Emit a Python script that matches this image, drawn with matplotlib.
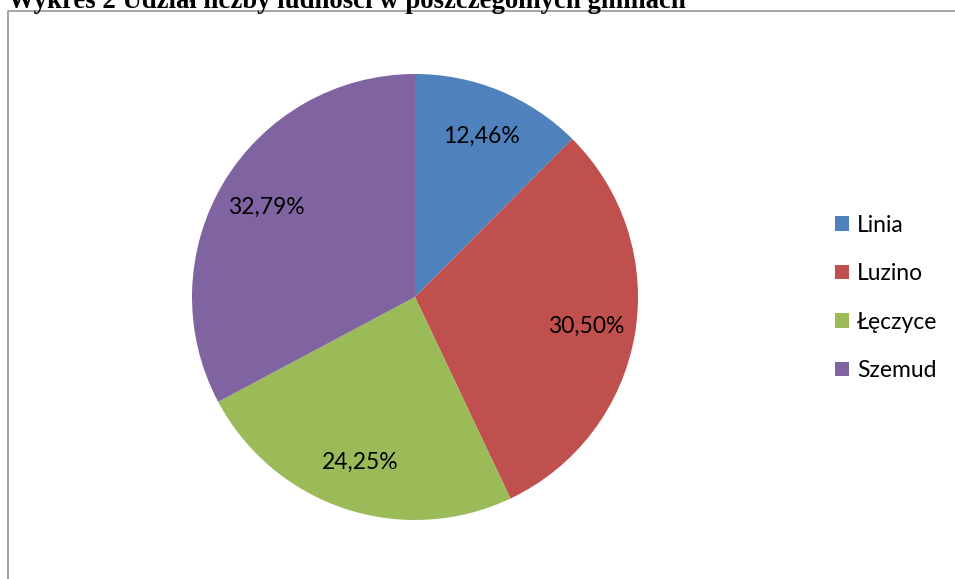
import matplotlib
matplotlib.use("Agg")
import matplotlib.pyplot as plt
from matplotlib.patches import Rectangle

# Data
gminy = ["Linia", "Luzino", "Łęczyce", "Szemud"]
udzial = [12.46, 30.50, 24.25, 32.79]
kolory = ["#4F81BD", "#C0504D", "#9BBB59", "#8064A2"]
tytul = "Wykres 2 Udział liczby ludności w poszczególnych gminach"

W, H = 955, 579
fig = plt.figure(figsize=(W / 100, H / 100), dpi=100)
fig.patch.set_facecolor("white")

# chart frame (runs off right/bottom edge like in the source)
fig.add_artist(Rectangle((8 / W, -0.2), 2.0, 1.2 - 10.5 / H, transform=fig.transFigure,
                         fill=False, edgecolor="#8c8c8c", linewidth=1.1, clip_on=False))

# title, partly cut off at the top (as in the source picture)
t = fig.text(8 / W, 1 - 7.5 / H, tytul, family="Liberation Serif", weight="bold",
             fontsize=18, ha="left", va="baseline")
fig.canvas.draw()
w = t.get_window_extent().width
t.set_fontsize(18 * 675 / w)

# pie
ax = fig.add_axes([192 / W, 1 - 520 / H, 446 / W, 446 / H])
wedges, _, autotexts = ax.pie(udzial, colors=kolory, startangle=90, counterclock=False,
                              autopct=lambda p: f"{p:.2f}%".replace(".", ","),
                              pctdistance=0.78, radius=1,
                              wedgeprops=dict(linewidth=0),
                              textprops=dict(family="Lato", fontsize=16.5, color="black"))
ax.set_xlim(-1, 1)
ax.set_ylim(-1, 1)
ax.set_aspect("equal")
ax.axis("off")

leg = ax.legend(wedges, gminy, loc="center left", bbox_to_anchor=(824 / W, 1 - 298 / H),
                bbox_transform=fig.transFigure, frameon=False,
                prop=dict(family="Lato", size=16.5),
                handlelength=0.6, handleheight=0.6, handletextpad=0.35,
                labelspacing=1.2, borderpad=0)

fig.savefig("out.png", dpi=100)
